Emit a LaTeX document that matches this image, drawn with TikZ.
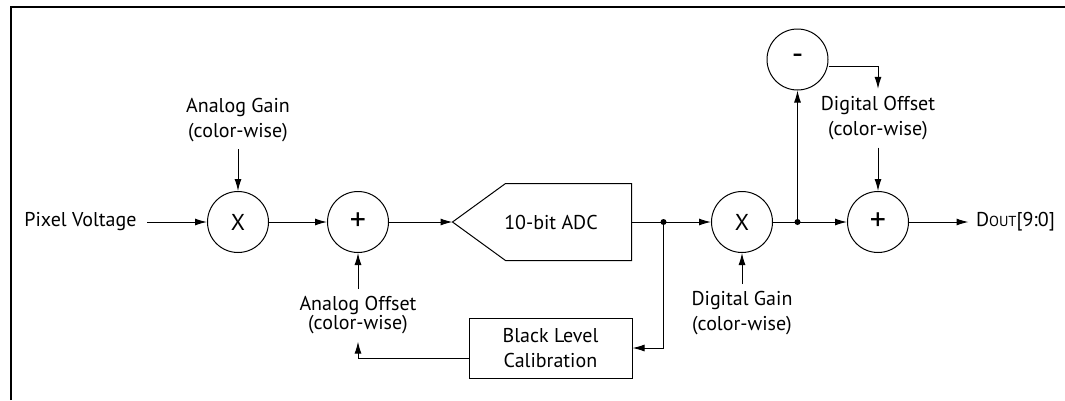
\documentclass[tikz,border=0pt]{standalone}
\usepackage{fontspec}
\setmainfont{PT Sans}
\usetikzlibrary{positioning,arrows.meta}

\begin{document}
\begin{tikzpicture}[
    x=1pt, y=1pt,
    font=\fontsize{20}{25}\selectfont,
    line width=1pt,
    >={Latex[length=12pt,width=7pt]},
    op/.style={draw, circle, minimum size=61pt, inner sep=0pt, font=\fontsize{23}{25}\selectfont},
    sign/.style={op, font=\fontsize{32}{32}\selectfont},
    lbl/.style={align=center, inner sep=7pt},
    blk/.style={draw, align=center, minimum width=163pt, minimum height=60pt}
]
    \useasboundingbox (0,0) rectangle (1065,-400);
    \draw[line width=2pt] (11,-400) -- (11,-7) -- (1065,-7);

    % signal path
    \node[op] (mul1) at (238,-222) {X};
    \node[sign, right=58pt of mul1] (add1) {+};
    \node[minimum width=178pt, minimum height=76pt, inner sep=0pt,
          right=63.5pt of add1] (adc) {\hspace*{18pt}10-bit ADC};
    \draw (adc.west) -- ([xshift=53pt]adc.north west) -- (adc.north east)
        -- (adc.south east) -- ([xshift=53pt]adc.south west) -- cycle;
    \coordinate[right=32pt of adc] (j1);
    \node[op, right=47.5pt of j1] (mul2) {X};
    \coordinate[right=24.5pt of mul2] (j2);
    \node[sign, right=49.5pt of j2] (add2) {+};
    \node[sign, above=131.5pt of j2] (neg) {-};

    % labels
    \node[lbl, inner xsep=10pt, left=60pt of mul1] (pix) {Pixel Voltage};
    \node[lbl, above=42pt of mul1] (again) {Analog Gain\\(color-wise)};
    \node[lbl, below=36pt of add1] (aoff) {Analog Offset\\[-6pt](color-wise)};
    \node[lbl, below=31pt of mul2] (dgain) {Digital Gain\\(color-wise)};
    \node[lbl, above=43.5pt of add2] (doff) {Digital Offset\\(color-wise)};
    \node[lbl, right=59.5pt of add2] (dout) {D{\fontsize{14.5}{15}\selectfont OUT}[9:0]};
    \node[blk, below=57pt of adc, xshift=8.5pt] (blc) {Black Level\\Calibration};

    \draw[->] (pix) -- (mul1);
    \draw[->] (again) -- (mul1);
    \draw[->] (mul1) -- (add1);
    \draw[->] (aoff) -- (add1);
    \draw[->] (add1) -- (adc.west);
    \draw (adc) -- (j1);
    \draw[->] (j1) -- (mul2);
    \draw[->] (j1) |- (blc.east);
    \draw[->] ([yshift=-10pt]blc.west) -| (aoff.south);
    \draw[->] (dgain) -- (mul2);
    \draw (mul2) -- (j2);
    \draw[->] (j2) -- (add2);
    \draw[->] (j2) -- (neg);
    \draw[->] ([yshift=-7pt]neg.east) -| (doff.north);
    \draw[->] (doff) -- (add2);
    \draw[->] (add2) -- (dout);
    \fill (j1) circle (3pt);
    \fill (j2) circle (3pt);
\end{tikzpicture}
\end{document}
